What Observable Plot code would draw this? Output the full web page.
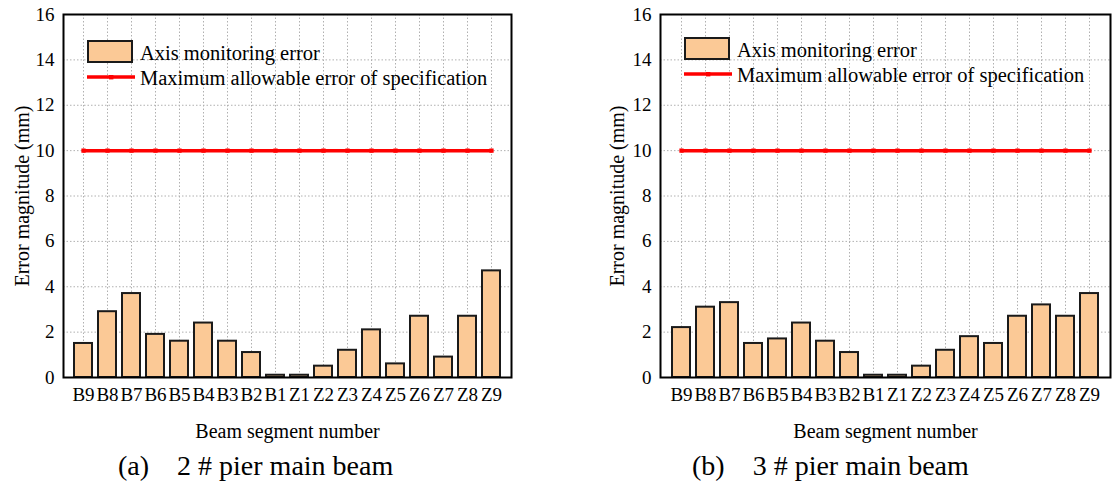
<!DOCTYPE html>
<html>
<head>
<meta charset="utf-8">
<script src="https://cdn.jsdelivr.net/npm/d3@7"></script>
<script src="https://cdn.jsdelivr.net/npm/@observablehq/plot@0.6"></script>
<style>
  html, body { margin: 0; padding: 0; background: #fff; }
  #root { position: relative; width: 1120px; height: 487px; overflow: hidden; background: #fff; font-family: "Liberation Serif", "Times New Roman", serif; }
  .panel { position: absolute; top: 0; width: 560px; height: 487px; }
  .legend { position: absolute; left: 0; top: 0; pointer-events: none; }
  .caption { position: absolute; font-size: 28px; white-space: pre; line-height: 1; color: #000; }
</style>
</head>
<body>
<div id="root"></div>
<script>
// ---- data ----
const segments = ["B9","B8","B7","B6","B5","B4","B3","B2","B1","Z1","Z2","Z3","Z4","Z5","Z6","Z7","Z8","Z9"];
const errorsPier2 = [1.5, 2.9, 3.7, 1.9, 1.6, 2.4, 1.6, 1.1, 0.1, 0.1, 0.5, 1.2, 2.1, 0.6, 2.7, 0.9, 2.7, 4.7];
const errorsPier3 = [2.2, 3.1, 3.3, 1.5, 1.7, 2.4, 1.6, 1.1, 0.1, 0.1, 0.5, 1.2, 1.8, 1.5, 2.7, 3.2, 2.7, 3.7];
const allowableError = 10;
const yTicks = [0, 2, 4, 6, 8, 10, 12, 14, 16];
const barLabel = "Axis monitoring error";
const lineLabel = "Maximum allowable error of specification";
const xTitle = "Beam segment number";
const yTitle = "Error magnitude (mm)";
const captions = [["(a)", "2 # pier main beam"], ["(b)", "3 # pier main beam"]];

const FONT = "'Liberation Serif', 'Times New Roman', serif";
const BAR_FILL = "#fbc996";
const BAR_STROKE = "#1a1a1a";
const RED = "#ff0000";
const GRID = "#b0b0b0";

function panel(values, cfg) {
  const data = segments.map((s, i) => ({seg: s, val: values[i], limit: allowableError}));
  return Plot.plot({
    width: 560,
    height: 450,
    marginLeft: cfg.marginLeft,
    marginRight: cfg.marginRight,
    marginTop: 14,
    marginBottom: 73,
    x: {domain: segments, paddingInner: 0.27, paddingOuter: 0.41},
    y: {domain: [0, 16]},
    style: {fontFamily: FONT, fontSize: "18px", color: "#000", background: "transparent", overflow: "visible"},
    marks: [
      Plot.gridY(yTicks.slice(1, -1), {stroke: GRID, strokeOpacity: 1, strokeDasharray: "1.5,2", strokeWidth: 1}),
      Plot.gridX({stroke: GRID, strokeOpacity: 1, strokeDasharray: "1.5,2", strokeWidth: 1}),
      Plot.barY(data, {x: "seg", y: "val", fill: BAR_FILL, stroke: BAR_STROKE, strokeWidth: 2}),
      Plot.lineY(data, {x: "seg", y: "limit", stroke: RED, strokeWidth: 3.5}),
      Plot.dot(data, {x: "seg", y: "limit", symbol: "square", r: 2.4, fill: RED, stroke: "none"}),
      Plot.frame({stroke: "#000", strokeWidth: 2}),
      Plot.axisX({tickSize: 0, tickPadding: 10, fontSize: 19, label: null}),
      Plot.axisY({ticks: yTicks, tickSize: 0, tickPadding: 9, fontSize: 19, label: null}),
      Plot.text([xTitle], {frameAnchor: "bottom", dy: 60, fontSize: 20, textAnchor: "middle"}),
      Plot.text([yTitle], {frameAnchor: "left", dx: cfg.yTitleDx, rotate: -90, fontSize: 20, textAnchor: "middle"})
    ]
  });
}

function legend(cfg) {
  const ns = "http://www.w3.org/2000/svg";
  const svg = document.createElementNS(ns, "svg");
  svg.setAttribute("width", 560);
  svg.setAttribute("height", 120);
  svg.setAttribute("class", "legend");
  const el = (tag, attrs, text) => {
    const e = document.createElementNS(ns, tag);
    for (const k in attrs) e.setAttribute(k, attrs[k]);
    if (text) e.textContent = text;
    svg.appendChild(e);
    return e;
  };
  const x0 = cfg.x, y0 = cfg.y;
  el("rect", {x: x0 + 1, y: y0 + 1, width: 44, height: 21, fill: BAR_FILL, stroke: BAR_STROKE, "stroke-width": 2});
  el("text", {x: x0 + 53, y: y0 + 20, "font-family": FONT, "font-size": 20.5, fill: "#000"}, barLabel);
  el("line", {x1: x0, x2: x0 + 48, y1: y0 + 37, y2: y0 + 37, stroke: RED, "stroke-width": 3.5});
  el("rect", {x: x0 + 22, y: y0 + 35, width: 4.4, height: 4.4, fill: RED});
  el("text", {x: x0 + 53, y: y0 + 45, "font-family": FONT, "font-size": 20.5, fill: "#000"}, lineLabel);
  return svg;
}

const root = document.getElementById("root");
const cfgs = [
  {values: errorsPier2, left: 0, marginLeft: 63, marginRight: 49, yTitleDx: -41, legend: {x: 87, y: 40}, captionX: 118},
  {values: errorsPier3, left: 560, marginLeft: 100, marginRight: 10, yTitleDx: -43, legend: {x: 684, y: 37}, captionX: 692}
];
cfgs.forEach((c, i) => {
  const div = document.createElement("div");
  div.className = "panel";
  div.style.left = c.left + "px";
  div.appendChild(panel(c.values, c));
  root.appendChild(div);
  const lg = legend({x: c.legend.x - c.left, y: c.legend.y});
  div.appendChild(lg);
  const cap = document.createElement("div");
  cap.className = "caption";
  cap.style.left = (c.captionX) + "px";
  cap.style.top = "452px";
  cap.textContent = captions[i][0] + "    " + captions[i][1];
  root.appendChild(cap);
});
</script>
</body>
</html>
